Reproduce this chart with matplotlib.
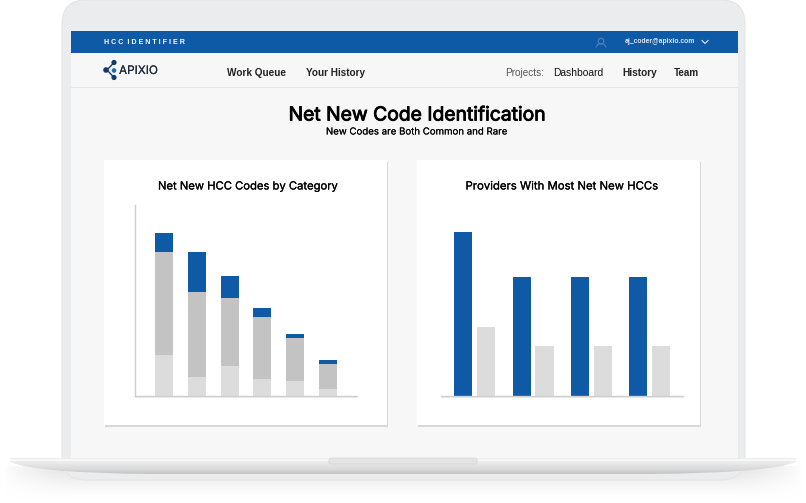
import numpy as np
import matplotlib
matplotlib.use("Agg")
import matplotlib.pyplot as plt
import matplotlib.patheffects as pe
from matplotlib.patches import FancyBboxPatch, Rectangle, PathPatch, Circle
from matplotlib.path import Path

# ---- data ----
category_index = [0, 1, 2, 3, 4, 5]
common_codes = [41, 19, 30, 17, 15, 7]
mid_codes = [103, 85, 68, 62, 43, 25]
rare_codes = [19, 40, 22, 9, 4, 4]
provider_index = [0, 1, 2, 3]
provider_net_new = [164, 119, 119, 119]
provider_other = [69, 50, 50, 50]
title = "Net New Code Identification"
subtitle = "New Codes are Both Common and Rare"
chart_titles = ["Net New HCC Codes by Category", "Providers With Most Net New HCCs"]

BLUE = "#0f5aa6"
MID = "#c3c3c3"
LIGHT = "#dcdcdc"
AXIS = "#cfcfcf"
W, H = 806, 503

fig = plt.figure(figsize=(W / 100, H / 100), dpi=100, facecolor="white")
bg = fig.add_axes([0, 0, 1, 1])
bg.set_xlim(0, W)
bg.set_ylim(H, 0)
bg.axis("off")
rend = fig.canvas.get_renderer()


def txt(x, y, s, width, ha="left", color="black", stroke=0, zorder=8, **kw):
    """Place text, sized so that its drawn width equals `width` pixels."""
    t = bg.text(x, y, s, ha=ha, va="center", color=color, fontsize=10, zorder=zorder, **kw)
    w = t.get_window_extent(rend).width
    t.set_fontsize(10 * width / w)
    if stroke:
        t.set_path_effects([pe.withStroke(linewidth=stroke, foreground=color)])
    return t


# laptop shadow under the base
yy, xx = np.mgrid[466:503, 0:W]
fx = np.clip(np.minimum(xx - 4, 802 - xx) / 70.0, 0, 1)
fy = np.clip((500 - yy) / 28.0, 0, 1)
shade = np.zeros(xx.shape + (4,))
shade[..., :3] = 0.80
shade[..., 3] = 0.5 * (fx ** 0.7) * (fy ** 1.6)
bg.imshow(shade, extent=(0, W, 503, 466), aspect="auto", zorder=1, interpolation="bilinear")

# shell
bg.add_patch(FancyBboxPatch((62, 0), 683, 480, boxstyle="round,pad=0,rounding_size=24",
                            fc="#ebecee", ec="#e4e5e7", lw=0.8, zorder=2))
# screen
bg.add_patch(Rectangle((71, 31), 667, 432, fc="#f7f7f7", ec="none", zorder=3))
bg.add_patch(Rectangle((71, 31), 667, 22, fc=BLUE, ec="none", zorder=4))
bg.add_patch(Rectangle((71, 87), 667, 1.2, fc="#e6e6e6", ec="none", zorder=4))

# base of the laptop
verts = [(10, 458), (796, 458), (796, 462), (770, 473), (650, 474), (150, 474),
         (36, 473), (10, 462), (10, 458)]
codes = [Path.MOVETO, Path.LINETO, Path.LINETO, Path.CURVE3, Path.CURVE3, Path.LINETO,
         Path.CURVE3, Path.CURVE3, Path.CLOSEPOLY]
base_path = Path(verts, codes)
base_patch = PathPatch(base_path, fc="none", ec="none", transform=bg.transData)
bg.add_patch(base_patch)
ramp = np.array([[0.93], [0.97], [0.97], [0.93], [0.925], [0.915], [0.90],
                 [0.89], [0.88], [0.87], [0.86], [0.85], [0.83], [0.81], [0.79], [0.78]])
im = bg.imshow(np.repeat(ramp, 3, axis=1).reshape(16, 3, 1).repeat(3, axis=2),
               extent=(10, 796, 474, 458), aspect="auto", zorder=6, interpolation="bilinear")
im.set_clip_path(base_patch)
bg.add_patch(FancyBboxPatch((329, 458), 148, 6, boxstyle="round,pad=0,rounding_size=2",
                            fc="#e4e4e5", ec="#d5d5d6", lw=0.5, zorder=7))
bg.set_xlim(0, W)
bg.set_ylim(H, 0)

# cards
for cx in (104, 417):
    bg.add_patch(Rectangle((cx + 1, 162), 283, 265, fc="#d8d8d8", ec="none", zorder=4))
    bg.add_patch(Rectangle((cx, 160), 283, 265, fc="white", ec="none", zorder=5))

# header text
sans = ["Liberation Sans", "DejaVu Sans"]
wide = ["Inter", "DejaVu Sans"]
txt(104.5, 42.5, "H C C  I D E N T I F I E R", 80, color="white", family=sans, weight="bold")
txt(625, 41.5, "aj_coder@apixio.com", 70, color="#dfe8f3", family=sans, weight="bold")
bg.plot([702, 705, 708], [40.5, 43.5, 40.5], color="#dfe8f3", lw=0.8, zorder=8)
bg.add_patch(Circle((601, 41), 2.8, fc="none", ec="#4d82bb", lw=0.8, zorder=8))
bg.plot([596, 598, 604, 606], [47, 44, 44, 47], color="#4d82bb", lw=0.8, zorder=8)

# logo
logo = "#123a6b"
bg.plot([114, 107, 114], [62.5, 70, 77.5], color=logo, lw=1, zorder=7.5)
for lx, ly, r, c in [(114, 62.5, 2.6, logo), (106, 70, 2.8, logo), (114, 77.5, 2.6, logo),
                     (114, 70.5, 2.3, "#1f6db5")]:
    bg.add_patch(Circle((lx, ly), r, fc=c, ec="none", zorder=8))
txt(119, 71, "APIXIO", 39, color="#1d2b3d", family=wide, stroke=0.1)

for x, s, w, c, wt in [(227, "Work Queue", 59, "#222222", "bold"),
                       (306, "Your History", 59, "#222222", "bold"),
                       (505, "Projects:", 39, "#555555", "normal"),
                       (553, "Dashboard", 50, "#111111", "normal"),
                       (622, "History", 35, "#222222", "bold"),
                       (674, "Team", 25, "#222222", "bold")]:
    txt(x, 72.5, s, w, color=c, family=sans, weight=wt)

txt(417, 115.5, title, 258, ha="center", family=wide, stroke=0.6)
txt(417, 132, subtitle, 182, ha="center", family=wide, stroke=0.05)
txt(248, 186.5, chart_titles[0], 180, ha="center", family=wide, stroke=0.15)
txt(561.5, 186.5, chart_titles[1], 193, ha="center", family=wide, stroke=0.15)


def chart_axes(x0, x1, y0, y1):
    ax = fig.add_axes([x0 / W, 1 - y1 / H, (x1 - x0) / W, (y1 - y0) / H])
    ax.patch.set_alpha(0)
    ax.set_xticks([])
    ax.set_yticks([])
    for s in ("top", "right"):
        ax.spines[s].set_visible(False)
    for s in ("left", "bottom"):
        ax.spines[s].set_color(AXIS)
        ax.spines[s].set_linewidth(1.0)
    return ax


# stacked bars
a1 = chart_axes(135, 357, 205, 396)
cats = np.array(category_index)
common = np.array(common_codes)
mid = np.array(mid_codes)
rare = np.array(rare_codes)
a1.bar(cats, common, 0.549, color=LIGHT)
a1.bar(cats, mid, 0.549, bottom=common, color=MID)
a1.bar(cats, rare, 0.549, bottom=common + mid, color=BLUE)
a1.set_xlim(-0.884, 5.884)
a1.set_ylim(0, 191)

# paired bars
a2 = chart_axes(441, 683, 205, 396)
a2.spines["left"].set_visible(False)
prov = np.array(provider_index)
a2.bar(prov - 0.197, provider_net_new, 0.309, color=BLUE)
a2.bar(prov + 0.197, provider_other, 0.309, color=LIGHT)
a2.set_xlim(-0.578, 3.572)
a2.set_ylim(0, 191)

# thin lighter line beneath the baselines
bg.add_patch(Rectangle((135, 396.6), 222, 1.2, fc="#eeeeee", ec="none", zorder=6))
bg.add_patch(Rectangle((441, 396.6), 242, 1.2, fc="#eeeeee", ec="none", zorder=6))

fig.savefig("out.png", dpi=100)
